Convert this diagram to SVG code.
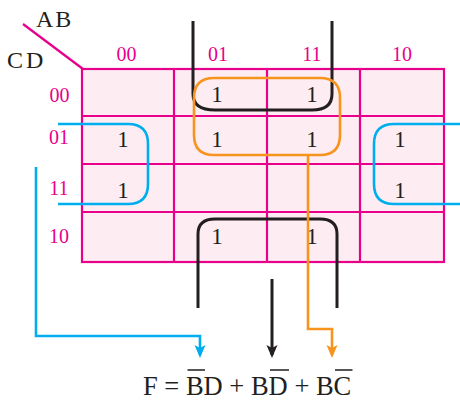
<svg xmlns="http://www.w3.org/2000/svg" width="460" height="401" viewBox="0 0 460 401">
<style>
.grid{fill:none;stroke:#e8008a;stroke-width:2.2}
.lbl{font-family:"Liberation Serif",serif;font-size:20px;fill:#e8008a;text-anchor:middle}
.var{font-family:"Liberation Serif",serif;font-size:24px;fill:#231f20}
.one{font-family:"Liberation Serif",serif;font-size:23px;fill:#231f20;text-anchor:middle}
.blk{fill:none;stroke:#231f20;stroke-width:3}
.org{fill:none;stroke:#f7941d;stroke-width:2.6}
.blu{fill:none;stroke:#00aeef;stroke-width:2.6}
.eq{font-family:"Liberation Serif",serif;font-size:26.5px;fill:#231f20}
.bar{stroke:#231f20;stroke-width:1.6}
</style>
<defs>
<marker id="ab" markerUnits="userSpaceOnUse" markerWidth="14" markerHeight="12" refX="10" refY="5.5" orient="auto"><path d="M0,0 L13,5.5 L0,11 L3,5.5 z" fill="#231f20"/></marker>
<marker id="ao" markerUnits="userSpaceOnUse" markerWidth="14" markerHeight="12" refX="10" refY="5.5" orient="auto"><path d="M0,0 L13,5.5 L0,11 L3,5.5 z" fill="#f7941d"/></marker>
<marker id="au" markerUnits="userSpaceOnUse" markerWidth="14" markerHeight="12" refX="10" refY="5.5" orient="auto"><path d="M0,0 L13,5.5 L0,11 L3,5.5 z" fill="#00aeef"/></marker>
</defs>
<g id="kmap">
<rect x="82" y="69" width="362" height="193" fill="#fdedf3"/>
<g class="grid">
<rect x="82" y="69" width="362" height="193"/>
<path d="M174,69V262M267,69V262M360,69V262M82,116H444M82,164H444M82,212H444"/>
<path d="M23,24L83,69"/>
</g>
</g>
<g id="axis-labels">
<text class="var" x="36" y="27" letter-spacing="2">AB</text>
<text class="var" x="7" y="68" letter-spacing="3">CD</text>
<text class="lbl" x="126.5" y="61">00</text>
<text class="lbl" x="218" y="61">01</text>
<text class="lbl" x="312" y="61">11</text>
<text class="lbl" x="402" y="61">10</text>
<text class="lbl" x="59.5" y="102">00</text>
<text class="lbl" x="59" y="144">01</text>
<text class="lbl" x="59" y="195">11</text>
<text class="lbl" x="59" y="243">10</text>
</g>
<g id="cells">
<text class="one" x="217" y="102">1</text>
<text class="one" x="312" y="102">1</text>
<text class="one" x="123" y="147">1</text>
<text class="one" x="217" y="147">1</text>
<text class="one" x="312" y="147">1</text>
<text class="one" x="400" y="147">1</text>
<text class="one" x="123" y="198">1</text>
<text class="one" x="400" y="198">1</text>
<text class="one" x="217" y="244">1</text>
<text class="one" x="312" y="244">1</text>
</g>
<g id="connectors">
<path class="blk" d="M193,21V94Q193,110 215,110H312Q332,110 332,94V21"/>
<path class="org" d="M214,78H320Q340,78 340,98V135Q340,155 320,155H214Q194,155 194,135V98Q194,78 214,78Z"/>
<path class="blu" d="M58,124H128Q148,124 148,144V184Q148,204 128,204H58"/>
<path class="blu" d="M462,124H394Q374,124 374,144V184Q374,204 394,204H462"/>
<path class="blk" d="M198,308V234Q198,219 215,219H320Q337,219 337,234V308"/>
<path class="blu" d="M36,167V336H200V355" marker-end="url(#au)"/>
<path class="org" d="M308,155V329H332V355" marker-end="url(#ao)"/>
<path class="blk" d="M272,279V355" stroke-width="2.6" marker-end="url(#ab)"/>
</g>
<g id="formula">
<text class="eq" x="143" y="395">F = BD + BD + BC</text>
<path class="bar" d="M187.5,370H205M270,370H289M335,370H352.5"/>
</g>
</svg>
